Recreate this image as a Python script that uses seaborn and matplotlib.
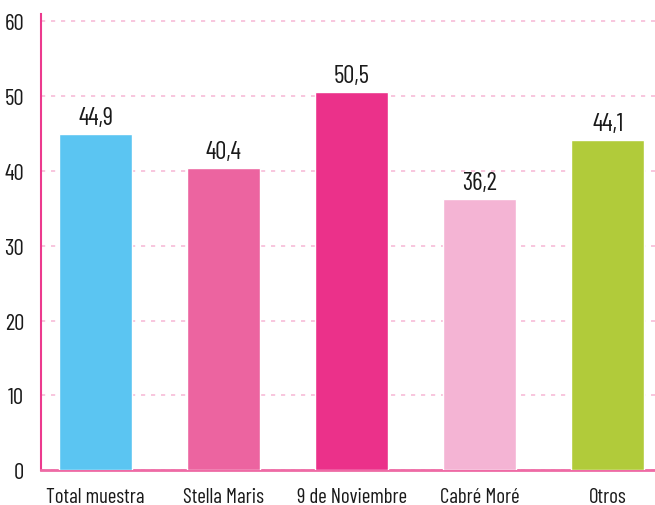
import matplotlib
matplotlib.use("Agg")
import matplotlib.pyplot as plt
import seaborn as sns

categories = ["Total muestra", "Stella Maris", "9 de Noviembre", "Cabré Moré", "Otros"]
values = [44.9, 40.4, 50.5, 36.2, 44.1]
colors = ["#5BC5F2", "#EC64A0", "#EB318A", "#F4B4D4", "#B1CB3A"]
yticks = [0, 10, 20, 30, 40, 50, 60]

sns.set_style("white")
plt.rcParams["font.family"] = ["Barlow Condensed", "DejaVu Sans"]

fig = plt.figure(figsize=(6.55, 5.06), dpi=100)
ax = fig.add_axes([0.0626, 0.069, 0.9374, 0.9014])

sns.barplot(x=categories, y=values, hue=categories, palette=colors,
            saturation=1, width=0.57, legend=False, ax=ax, zorder=3)

for i, v in enumerate(values):
    ax.text(i, v + 0.7, f"{v:.1f}".replace(".", ","), ha="center", va="bottom",
            fontsize=18, color="#1a1a1a")

ax.set_ylim(0, 61)
ax.set_xlim(-0.426, 4.37)
ax.set_yticks(yticks)
ax.yaxis.grid(True, linestyle=(0, (2.5, 3.5)), color="#F7BCD8", linewidth=1.2, zorder=0)
ax.xaxis.grid(False)
ax.set_axisbelow(True)

for side in ["top", "right"]:
    ax.spines[side].set_visible(False)
ax.spines["left"].set_color("#EC3A8E")
ax.spines["bottom"].set_color("#EE6AA5")
ax.spines["left"].set_linewidth(1.5)
ax.spines["bottom"].set_linewidth(2)

ax.tick_params(axis="both", length=0, colors="#1a1a1a")
ax.tick_params(axis="y", pad=12, labelsize=16.5)
ax.tick_params(axis="x", pad=12, labelsize=15)
ax.set_xlabel("")
ax.set_ylabel("")

fig.savefig("out.png", dpi=100)
